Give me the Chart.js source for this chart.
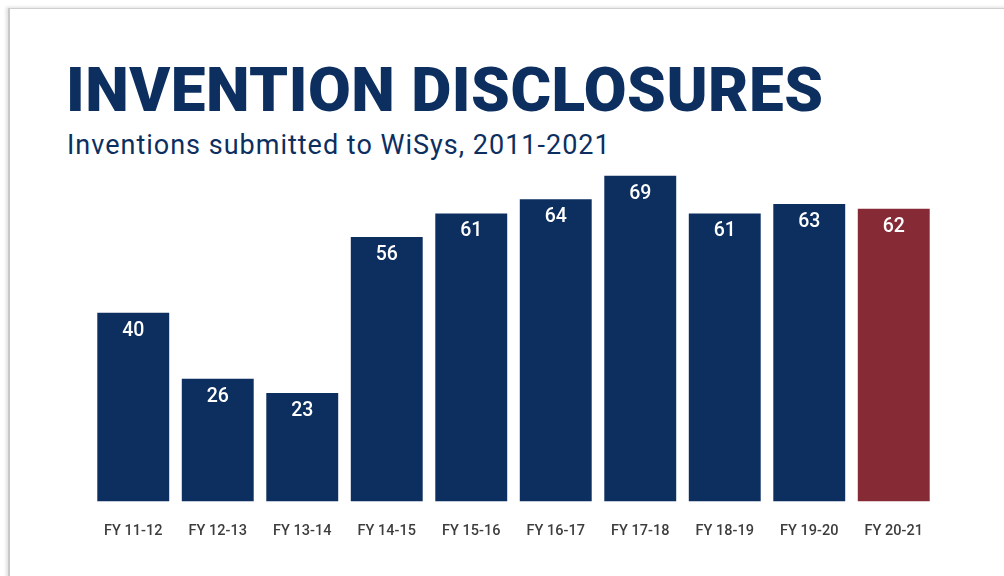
<!DOCTYPE html>
<html>
<head>
<meta charset="utf-8">
<script src="https://cdn.jsdelivr.net/npm/chart.js@4.4.1/dist/chart.umd.min.js"></script>
<style>
  html, body { margin: 0; padding: 0; background: #fff; }
  #wrap { position: relative; width: 1004px; height: 576px; overflow: hidden; }
  #card { position: absolute; left: 8px; top: 8px; width: 1010px; height: 600px;
          border-left: 2px solid #c8c8c8; border-top: 1px solid #cfcfcf;
          box-shadow: -2px -1px 3px rgba(0,0,0,0.12); background: #fff; }
  #title { position: absolute; left: 66px; top: 53px; margin: 0;
           font-family: Roboto, "Liberation Sans", sans-serif; font-weight: 900;
           font-size: 62px; line-height: 74px; color: #0c2f5f; letter-spacing: 0.5px; white-space: nowrap; }
  #subtitle { position: absolute; left: 67px; top: 128px; margin: 0;
              font-family: Roboto, "Liberation Sans", sans-serif; font-weight: 400;
              font-size: 27px; line-height: 34px; color: #0c2f5f; letter-spacing: 1px; white-space: nowrap; }
  #c { position: absolute; left: 0; top: 0; }
</style>
</head>
<body>
<div id="wrap">
  <div id="card"></div>
  <div id="title">INVENTION DISCLOSURES</div>
  <div id="subtitle">Inventions submitted to WiSys, 2011-2021</div>
  <canvas id="c" width="1004" height="576"></canvas>
</div>
<script>
const categories = ["FY 11-12","FY 12-13","FY 13-14","FY 14-15","FY 15-16","FY 16-17","FY 17-18","FY 18-19","FY 19-20","FY 20-21"];
const disclosures = [40, 26, 23, 56, 61, 64, 69, 61, 63, 62];
const barColors = ["#0c2f5f","#0c2f5f","#0c2f5f","#0c2f5f","#0c2f5f","#0c2f5f","#0c2f5f","#0c2f5f","#0c2f5f","#862a35"];

const valueLabels = {
  id: 'valueLabels',
  afterDatasetsDraw(chart) {
    const ctx = chart.ctx;
    const meta = chart.getDatasetMeta(0);
    ctx.save();
    ctx.fillStyle = '#ffffff';
    ctx.font = '500 19.5px Roboto, "Liberation Sans", sans-serif';
    ctx.textAlign = 'center';
    ctx.textBaseline = 'middle';
    meta.data.forEach((bar, i) => {
      ctx.fillText(String(chart.data.datasets[0].data[i]), bar.x, bar.y + 18);
    });
    ctx.restore();
  }
};

new Chart(document.getElementById('c'), {
  type: 'bar',
  data: {
    labels: categories,
    datasets: [{
      data: disclosures,
      backgroundColor: barColors,
      borderWidth: 0,
      categoryPercentage: 1.0,
      barPercentage: 0.851
    }]
  },
  options: {
    responsive: false,
    animation: false,
    events: [],
    layout: { padding: { left: 91, right: 68, top: 171, bottom: 15 } },
    plugins: { legend: { display: false }, tooltip: { enabled: false } },
    scales: {
      y: { display: false, min: 0, max: 70 },
      x: {
        grid: { display: false, drawTicks: false },
        border: { display: false },
        ticks: {
          color: '#3d3d3d',
          padding: 21,
          font: { family: 'Roboto, "Liberation Sans", sans-serif', size: 14.5, weight: '500' },
          maxRotation: 0
        }
      }
    }
  },
  plugins: [valueLabels]
});
</script>
</body>
</html>
